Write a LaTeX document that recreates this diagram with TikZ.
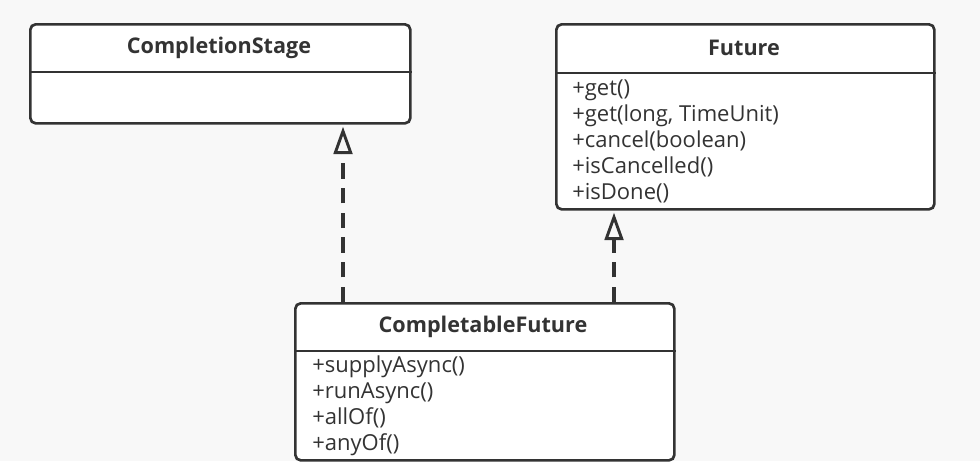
\documentclass[tikz,border=0pt]{standalone}
\usepackage{fontspec}
\setmainfont{Open Sans}
\usepackage{tikz}
\usetikzlibrary{positioning,arrows.meta,calc,backgrounds}
\definecolor{umlink}{HTML}{333333}
\definecolor{umlpaper}{HTML}{F8F8F8}
\tikzset{
  uml box/.style={draw=umlink, line width=2pt, rounded corners=4pt, fill=white, inner sep=0pt, anchor=north west},
  uml title/.style={font=\fontsize{16.2}{18}\selectfont\bfseries, text=umlink, inner sep=0pt},
  uml ops/.style={font=\fontsize{16.5}{19.5}\selectfont, text=umlink, align=left, inner sep=0pt, anchor=west},
  uml rule/.style={draw=umlink, line width=2pt},
  uml real/.style={draw=umlink, line width=2.3pt, dash pattern=on 11.5pt off 7pt,
                   -{Triangle[open, length=20.5pt, width=14pt, line width=2.2pt]}},
}
\begin{document}
\begin{tikzpicture}[x=0.75pt, y=-0.75pt]
  \useasboundingbox[fill=umlpaper] (0,0) rectangle (980,461);
  % interface CompletionStage
  \node[uml box, minimum width=285pt, minimum height=74.25pt] (stage) at (29,23) {};
  \node[uml title] (stagename) at (219,48) {CompletionStage};
  \draw[uml rule] (stage.west |- 0,72) -- (stage.east |- 0,72);
  % interface Future
  \node[uml box, minimum width=283.5pt, minimum height=138.75pt] (fut) at (555,23) {};
  \node[uml title] (futname) at (744,48) {Future};
  \draw[uml rule] (fut.west |- 0,73) -- (fut.east |- 0,73);
  \node[uml ops] (futops) at (572,141)
    {+get()\\+get(long, TimeUnit)\\+cancel(boolean)\\+isCancelled()\\+isDone()};
  % class CompletableFuture
  \node[uml box, minimum width=284.25pt, minimum height=117.75pt] (cf) at (294,302) {};
  \node[uml title] (cfname) at (483,327) {CompletableFuture};
  \draw[uml rule] (cf.west |- 0,351) -- (cf.east |- 0,351);
  \node[uml ops] (cfops) at (312,406)
    {+supplyAsync()\\+runAsync()\\+allOf()\\+anyOf()};
  % realizations
  \coordinate (lx) at (343,0);
  \coordinate (rx) at (614,0);
  \draw[uml real, shorten >=1.5pt] (cf.north -| lx) -- (stage.south -| lx);
  \draw[uml real, shorten >=1.5pt] (cf.north -| rx) -- (fut.south -| rx);
\end{tikzpicture}
\end{document}
